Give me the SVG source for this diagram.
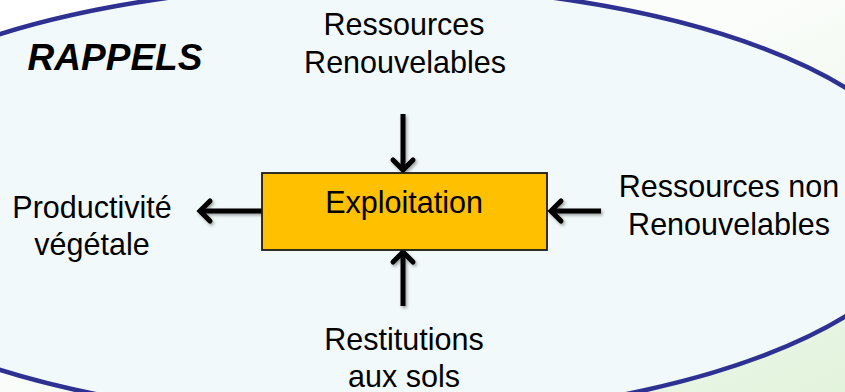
<svg xmlns="http://www.w3.org/2000/svg" width="845" height="392" viewBox="0 0 845 392">
<defs>
<linearGradient id="bg" x1="0" y1="0" x2="1" y2="1">
<stop offset="0" stop-color="#ffffff"/>
<stop offset="0.45" stop-color="#fbfdfb"/>
<stop offset="1" stop-color="#e2f3dc"/>
</linearGradient>
<filter id="sh" x="-30%" y="-30%" width="160%" height="160%">
<feDropShadow dx="1.5" dy="2" stdDeviation="1.5" flood-color="#000" flood-opacity="0.35"/>
</filter>
<marker id="ah" viewBox="-12 -7 14 14" refX="0" refY="0" markerWidth="14" markerHeight="14" markerUnits="userSpaceOnUse" orient="auto" overflow="visible">
<path d="M-10,-10 L0,0 L-10,10" fill="none" stroke="#000" stroke-width="5" stroke-linecap="round" stroke-linejoin="miter"/>
</marker>
</defs>
<style>
.t{font-family:"Liberation Sans",Arial,sans-serif;font-size:30.5px;fill:#000;text-anchor:middle}
.c{fill:none;stroke:#000;stroke-width:5;stroke-linecap:butt}
</style>
<rect x="0" y="0" width="845" height="392" fill="url(#bg)"/>
<ellipse cx="361" cy="202" rx="570" ry="217" fill="#f2f9fa" stroke="#2e3192" stroke-width="4.5"/>
<text x="115" y="70" style="font-family:'Liberation Sans',Arial,sans-serif;font-size:37px;font-weight:bold;font-style:italic;text-anchor:middle">RAPPELS</text>
<g id="connectors" filter="url(#sh)">
<path class="c" d="M403,114 L403,170" marker-end="url(#ah)"/>
<path class="c" d="M403,306 L403,252" marker-end="url(#ah)"/>
<path class="c" d="M262,211 L200,211" marker-end="url(#ah)"/>
<path class="c" d="M601,211 L551,211" marker-end="url(#ah)"/>
</g>
<g id="exploitation">
<rect x="262" y="173" width="285" height="77" fill="#ffc000" stroke="#1a1a1a" stroke-width="1.8"/>
<text class="t" x="404" y="213">Exploitation</text>
</g>
<g id="ressources-renouvelables">
<text class="t" x="404" y="35">Ressources</text>
<text class="t" x="405" y="73">Renouvelables</text>
</g>
<g id="productivite">
<text class="t" x="92" y="218">Productivité</text>
<text class="t" x="92" y="255">végétale</text>
</g>
<g id="ressources-non-renouvelables">
<text class="t" x="729" y="197">Ressources non</text>
<text class="t" x="729" y="235">Renouvelables</text>
</g>
<g id="restitutions">
<text class="t" x="404" y="350">Restitutions</text>
<text class="t" x="404" y="387">aux sols</text>
</g>
</svg>
